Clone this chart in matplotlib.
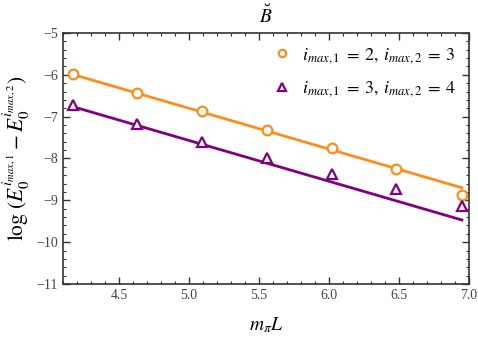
import matplotlib
matplotlib.use("Agg")
import matplotlib.pyplot as plt
from matplotlib.ticker import MultipleLocator
import numpy as np

plt.rcParams['font.family'] = ['Liberation Serif', 'DejaVu Serif']
plt.rcParams['mathtext.fontset'] = 'stix'

mpiL = [4.17, 4.63, 5.09, 5.56, 6.02, 6.48, 6.95]
series1 = [-5.99, -6.44, -6.87, -7.31, -7.76, -8.26, -8.88]
series2 = [-6.73, -7.18, -7.60, -8.00, -8.36, -8.74, -9.14]
fit_x = [4.17, 6.95]
fit1 = [-5.99, -8.70]
fit2 = [-6.76, -9.47]
labels = [r'$i_{max,1}\;=\;2,\, i_{max,2}\;=\;3$', r'$i_{max,1}\;=\;3,\, i_{max,2}\;=\;4$']
orange = '#FF8C1A'
purple = '#800080'

fig = plt.figure(figsize=(4.78, 3.41), dpi=100)
ax = fig.add_axes([0.1318, 0.1672, 0.8492, 0.736])

ax.plot(fit_x, fit1, color=orange, lw=2)
ax.plot(fit_x, fit2, color=purple, lw=2)
ax.plot(mpiL, series1, 'o', ms=7, mfc='white', mec=orange, mew=1.6, label=labels[0], ls='none')
ax.plot(mpiL, series2, '^', ms=7, mfc='white', mec=purple, mew=1.6, label=labels[1], ls='none')

ax.set_xlim(4.1, 7.0)
ax.set_ylim(-11, -5)
ax.xaxis.set_major_locator(MultipleLocator(0.5))
ax.xaxis.set_minor_locator(MultipleLocator(0.1))
ax.yaxis.set_major_locator(MultipleLocator(1))
ax.yaxis.set_minor_locator(MultipleLocator(0.2))
ax.xaxis.set_major_formatter(matplotlib.ticker.FormatStrFormatter('%.1f'))
ax.tick_params(which='both', direction='in', top=True, right=True, labelsize=10, colors='#333333', labelcolor='#444444')
ax.tick_params(which='major', length=5, width=1)
ax.tick_params(which='minor', length=2.5, width=0.8)
for s in ax.spines.values():
    s.set_linewidth(1.2)
    s.set_color('#333333')

ax.set_title(r'$\breve{B}$', fontsize=14, pad=7)
ax.set_xlabel(r'$m_\pi L$', fontsize=14, labelpad=10)
ax.set_ylabel(r'$\log\,(E_0^{i_{max,1}} - E_0^{i_{max,2}})$', fontsize=15.5, labelpad=3)

ax.legend(loc='upper right', frameon=False, fontsize=13, handletextpad=0.6, handlelength=1.0,
          borderaxespad=0.3, labelspacing=0.75, markerscale=0.75)

fig.savefig('out.png', dpi=100)
